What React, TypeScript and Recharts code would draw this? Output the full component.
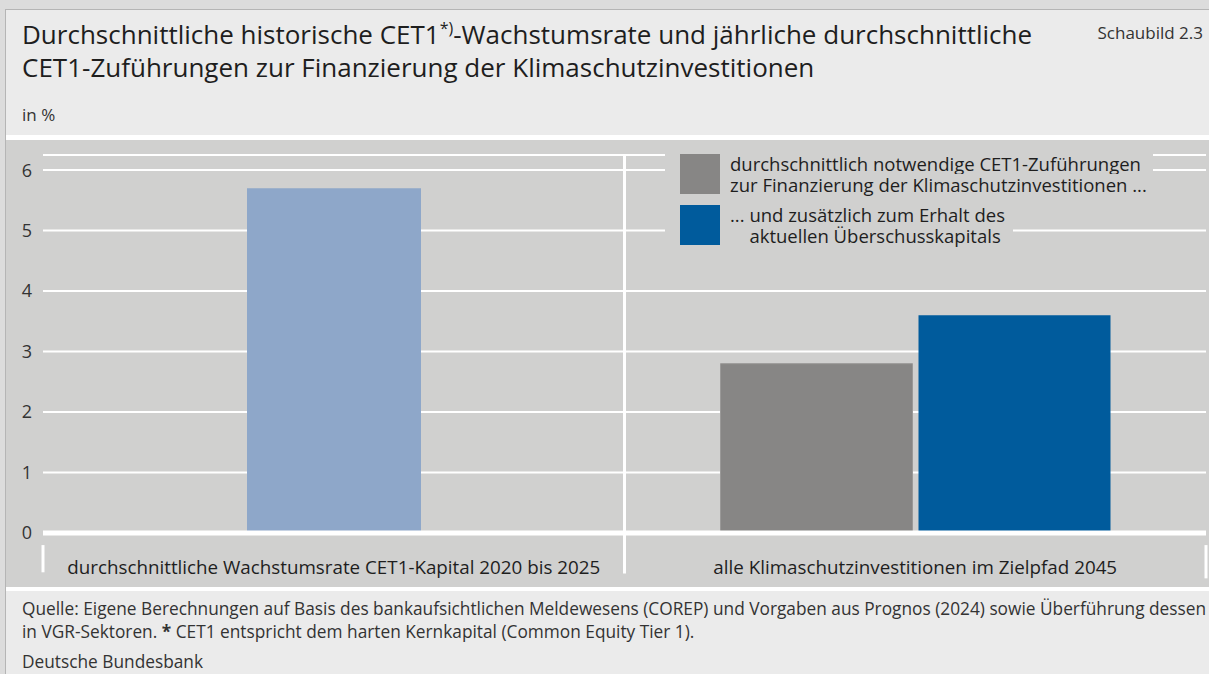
import React from 'react';
import {
  BarChart,
  Bar,
  XAxis,
  YAxis,
  CartesianGrid,
  ReferenceLine,
  Legend,
} from 'recharts';

const FONT = '"Open Sans", "Noto Sans", sans-serif';

const categories = [
  'durchschnittliche Wachstumsrate CET1-Kapital 2020 bis 2025',
  'alle Klimaschutzinvestitionen im Zielpfad 2045',
];
const historischeRate = [5.7, null];
const notwendigeZufuehrungen = [null, 2.8];
const zusaetzlichErhalt = [null, 3.6];
const yTicks = [0, 1, 2, 3, 4, 5, 6];

const legendNotwendig = [
  'durchschnittlich notwendige CET1-Zuführungen',
  'zur Finanzierung der Klimaschutzinvestitionen ...',
];
const legendZusaetzlich = ['... und zusätzlich zum Erhalt des', 'aktuellen Überschusskapitals'];
const legendOrder = ['notwendig', 'zusaetzlich'];

const data = categories.map((kategorie, i) => ({
  kategorie,
  historisch: historischeRate[i],
  notwendig: notwendigeZufuehrungen[i],
  zusaetzlich: zusaetzlichErhalt[i],
}));

const PLOT_BG = '#d0d0cf';

function KategorieTick(props: any) {
  const { x, y, payload } = props;
  return (
    <text x={x} y={y} dy={33} textAnchor="middle" fontSize={18.8} fill="#1e1e1e" fontFamily={FONT}>
      {payload.value}
    </text>
  );
}

function LegendBox(props: any) {
  const items = (props.payload || [])
    .filter((p: any) => legendOrder.includes(p.dataKey))
    .sort((a: any, b: any) => legendOrder.indexOf(a.dataKey) - legendOrder.indexOf(b.dataKey));
  return (
    <div style={{ fontFamily: FONT, fontSize: 18.5, color: '#1e1e1e' }}>
      {items.map((item: any, idx: number) => {
        const lines: string[] = String(item.value).split('\n');
        const indent = lines[0].startsWith('... ');
        return (
          <div key={idx} style={{ display: 'flex', alignItems: 'flex-start', marginTop: idx ? 10 : 0 }}>
            <div style={{ background: PLOT_BG, padding: '0 10px 0 15px' }}>
              <div style={{ width: 40, height: 40, background: item.color }} />
            </div>
            <div style={{ display: 'flex', flexDirection: 'column', alignItems: 'flex-start', marginTop: -1 }}>
              {lines.map((line, j) => (
                <span
                  key={j}
                  style={{ background: PLOT_BG, lineHeight: '21px', paddingRight: 12, whiteSpace: 'nowrap' }}
                >
                  {indent && j > 0 ? <span style={{ visibility: 'hidden' }}>... </span> : null}
                  {line}
                </span>
              ))}
            </div>
          </div>
        );
      })}
    </div>
  );
}

export default function App() {
  return (
    <div
      style={{
        position: 'absolute',
        left: 0,
        top: 0,
        width: 1209,
        height: 674,
        background: '#dcdcdc',
        overflow: 'hidden',
        fontFamily: FONT,
        color: '#222',
      }}
    >
      <div
        style={{
          position: 'absolute',
          left: 5,
          top: 9,
          right: 0,
          bottom: 0,
          background: '#ebebeb',
          borderLeft: '1px solid #b5b5b5',
          borderTop: '1px solid #b5b5b5',
        }}
      />
      <div
        style={{
          position: 'absolute',
          left: 22,
          top: 18,
          fontSize: 26,
          lineHeight: '33px',
          whiteSpace: 'nowrap',
          color: '#1e1e1e',
        }}
      >
        Durchschnittliche historische CET1<sup style={{ fontSize: 16, lineHeight: 0 }}>*)</sup>-Wachstumsrate und
        jährliche durchschnittliche
        <br />
        CET1-Zuführungen zur Finanzierung der Klimaschutzinvestitionen
      </div>
      <div style={{ position: 'absolute', right: 6, top: 21, fontSize: 17, color: '#333' }}>Schaubild 2.3</div>
      <div style={{ position: 'absolute', left: 22, top: 103, fontSize: 17, color: '#333' }}>in %</div>
      <div style={{ position: 'absolute', left: 6, right: 0, top: 135, height: 5, background: '#fff' }} />
      <div style={{ position: 'absolute', left: 6, top: 140, width: 1203, height: 447, background: PLOT_BG }}>
        <BarChart
          width={1203}
          height={447}
          data={data}
          margin={{ top: 15, right: 3, left: 0, bottom: 0 }}
          barGap={6}
        >
          <CartesianGrid xAxisId="main" horizontal vertical={false} stroke="#fff" strokeWidth={2} />
          <XAxis
            xAxisId="main"
            dataKey="kategorie"
            height={54}
            axisLine={false}
            tickLine={false}
            interval={0}
            tick={<KategorieTick />}
          />
          <XAxis xAxisId="pair" dataKey="kategorie" hide />
          <YAxis
            width={37}
            domain={[0, 6.25]}
            ticks={yTicks}
            axisLine={false}
            tickLine={false}
            tickSize={0}
            tickMargin={11}
            tick={{ fill: '#333', fontSize: 18, fontFamily: FONT }}
          />
          <ReferenceLine xAxisId="main" y={0} stroke="#fff" strokeWidth={5} />
          <ReferenceLine
            xAxisId="main"
            position="start"
            segment={[{ x: categories[1], y: 6.25 }, { x: categories[1], y: -0.67 }]}
            stroke="#fff"
            strokeWidth={3}
            ifOverflow="visible"
          />
          <ReferenceLine
            xAxisId="main"
            position="start"
            segment={[{ x: categories[0], y: -0.2 }, { x: categories[0], y: -0.65 }]}
            stroke="#fff"
            strokeWidth={3}
            ifOverflow="visible"
          />
          <ReferenceLine
            xAxisId="main"
            position="end"
            segment={[{ x: categories[1], y: -0.2 }, { x: categories[1], y: -0.75 }]}
            stroke="#fff"
            strokeWidth={3}
            ifOverflow="visible"
          />
          <Bar
            xAxisId="main"
            dataKey="historisch"
            name="durchschnittliche historische CET1-Wachstumsrate"
            fill="#8ea7c9"
            barSize={174}
            legendType="none"
            isAnimationActive={false}
          />
          <Bar
            xAxisId="pair"
            dataKey="notwendig"
            name={legendNotwendig.join('\n')}
            fill="#878685"
            stroke="#9a9998"
            strokeWidth={1}
            barSize={192}
            isAnimationActive={false}
          />
          <Bar
            xAxisId="pair"
            dataKey="zusaetzlich"
            name={legendZusaetzlich.join('\n')}
            fill="#005b9c"
            barSize={192}
            isAnimationActive={false}
          />
          <Legend
            layout="horizontal"
            verticalAlign="middle"
            align="center"
            content={<LegendBox />}
            wrapperStyle={{ position: 'absolute', top: 14, left: 659, width: 'auto', height: 'auto' }}
          />
        </BarChart>
      </div>
      <div style={{ position: 'absolute', left: 6, right: 0, top: 587, height: 4, background: '#fff' }} />
      <div
        style={{
          position: 'absolute',
          left: 22,
          top: 597,
          fontSize: 17.3,
          lineHeight: '23px',
          color: '#333',
          whiteSpace: 'nowrap',
        }}
      >
        Quelle: Eigene Berechnungen auf Basis des bankaufsichtlichen Meldewesens (COREP) und Vorgaben aus Prognos (2024)
        sowie Überführung dessen
        <br />
        in VGR-Sektoren. <b>*</b> CET1 entspricht dem harten Kernkapital (Common Equity Tier 1).
      </div>
      <div style={{ position: 'absolute', left: 22, top: 650, fontSize: 17.3, color: '#333' }}>Deutsche Bundesbank</div>
    </div>
  );
}
